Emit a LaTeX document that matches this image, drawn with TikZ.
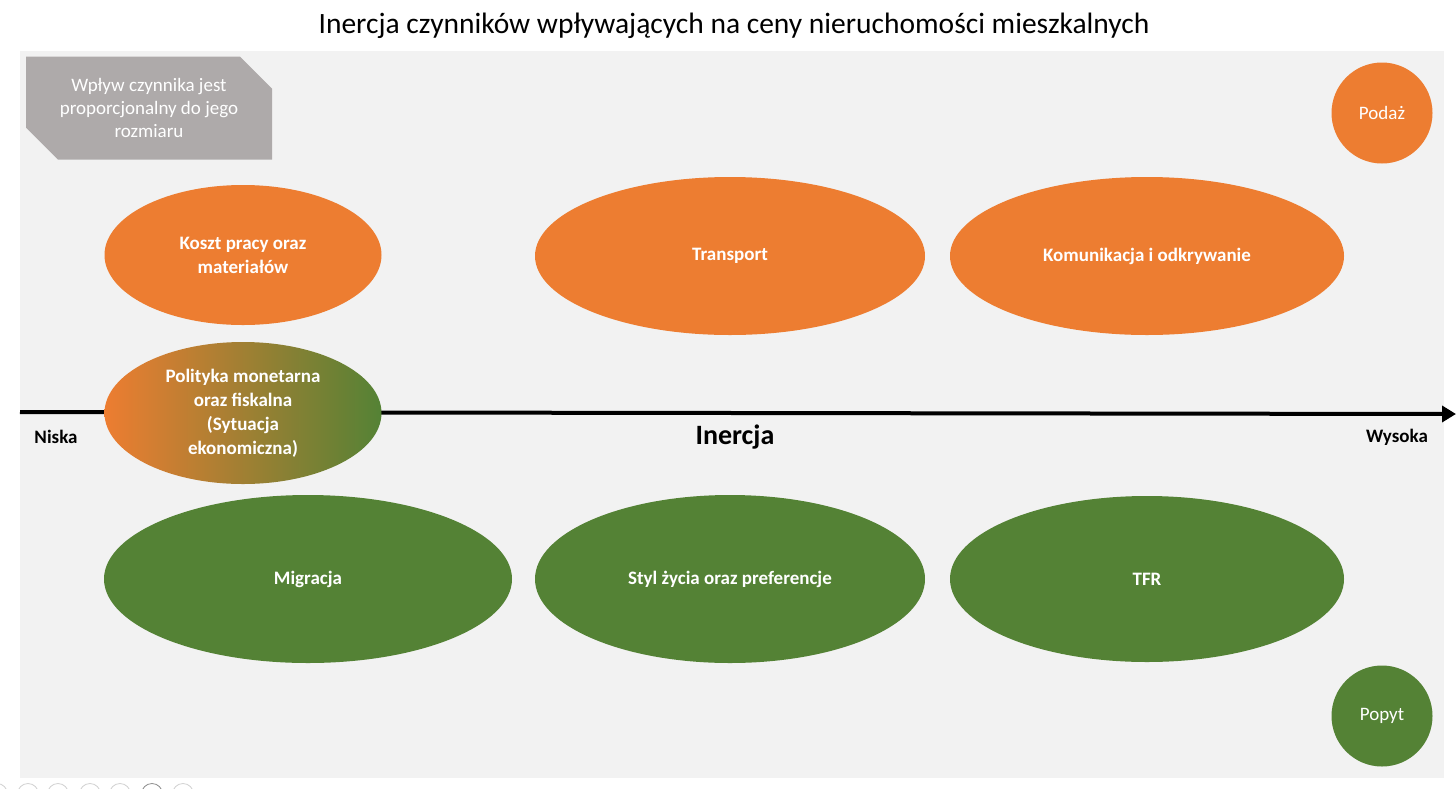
\documentclass[tikz,border=0pt]{standalone}
\usepackage{fontspec}
\setmainfont{Carlito}
\usetikzlibrary{shapes.geometric,shapes.misc,arrows.meta}
\definecolor{xorange}{HTML}{ED7D31}
\definecolor{xgreen}{HTML}{548235}
\definecolor{xgray}{HTML}{AEAAAA}
\definecolor{xbg}{HTML}{F2F2F2}
\tikzset{
  blob/.style={ellipse, inner sep=0pt, text=white, align=center,
    font=\fontsize{19}{24}\selectfont\bfseries},
  orangeblob/.style={blob, fill=xorange},
  greenblob/.style={blob, fill=xgreen},
  legendcirc/.style={circle, inner sep=0pt, minimum size=101pt, text=white,
    font=\fontsize{19}{23}\selectfont},
  endlabel/.style={font=\fontsize{19}{22}\selectfont\bfseries, text=black},
  pager/.style={draw=black!18, line width=0.8pt},
}
\begin{document}
\begin{tikzpicture}[x=1pt,y=-1pt]
\useasboundingbox (0,0) rectangle (1456,788);
\fill[white] (0,0) rectangle (1456,788);
\fill[xbg] (20,51) rectangle (1444,778);
\node[font=\fontsize{29.5}{32}\selectfont] (title) at (734,26) {Inercja czynników wpływających na ceny nieruchomości mieszkalnych};
% note
\node[chamfered rectangle, chamfered rectangle corners={north east,south west},
  chamfered rectangle xsep=16pt, chamfered rectangle ysep=16pt,
  fill=xgray, inner sep=0pt, minimum width=246pt, minimum height=103pt,
  text=white, align=center, font=\fontsize{19}{23}\selectfont] (note) at (149,108)
  {Wpływ czynnika jest\\proporcjonalny do jego\\rozmiaru};
% axis
\coordinate (axL) at (20,412);
\coordinate (axR) at (1456,414);
\draw[line width=4pt, -{Triangle[length=14pt,width=16pt]}] (axL) -- (axR);
\node[endlabel] (niska) at (56,437) {Niska};
\node[endlabel] (wysoka) at (1397,437) {Wysoka};
\node[font=\fontsize{28}{30}\selectfont\bfseries] (inercja) at (735,437) {Inercja};
% orange
\node[orangeblob, minimum width=277pt, minimum height=140pt] (koszt) at (243,255) {Koszt pracy oraz\\materiałów};
\node[orangeblob, minimum width=390pt, minimum height=158pt] (transport) at (730,256) {Transport};
\node[orangeblob, minimum width=394pt, minimum height=158pt] (komunikacja) at (1147,256) {Komunikacja i odkrywanie};
% gradient
\node[blob, left color=xorange, right color=xgreen, middle color=xorange!50!xgreen,
  minimum width=277pt, minimum height=142pt] (polityka) at (243,413)
  {Polityka monetarna\\oraz fiskalna\\(Sytuacja\\ekonomiczna)};
% green
\node[greenblob, minimum width=408pt, minimum height=168pt] (migracja) at (308,579) {Migracja};
\node[greenblob, minimum width=390pt, minimum height=168pt] (styl) at (730,579) {Styl życia oraz preferencje};
\node[greenblob, minimum width=394pt, minimum height=166pt] (tfr) at (1147,579) {TFR};
% legend
\node[legendcirc, fill=xorange] (podaz) at (1382,113) {Podaż};
\node[legendcirc, fill=xgreen] (popyt) at (1382,716) {Popyt};
% pager
\begin{scope}
\clip (0,0) rectangle (1456,788);
\foreach \px/\pi in {-3/0,28/1,58/2,90/3,120/4,183/6}{
  \node[pager, circle, minimum size=21pt, inner sep=0pt] (pg\pi) at (\px,794) {};
}
\node[pager, draw=black!45, circle, minimum size=21pt, inner sep=0pt] (pg5) at (152,794) {};
\end{scope}
\end{tikzpicture}
\end{document}
